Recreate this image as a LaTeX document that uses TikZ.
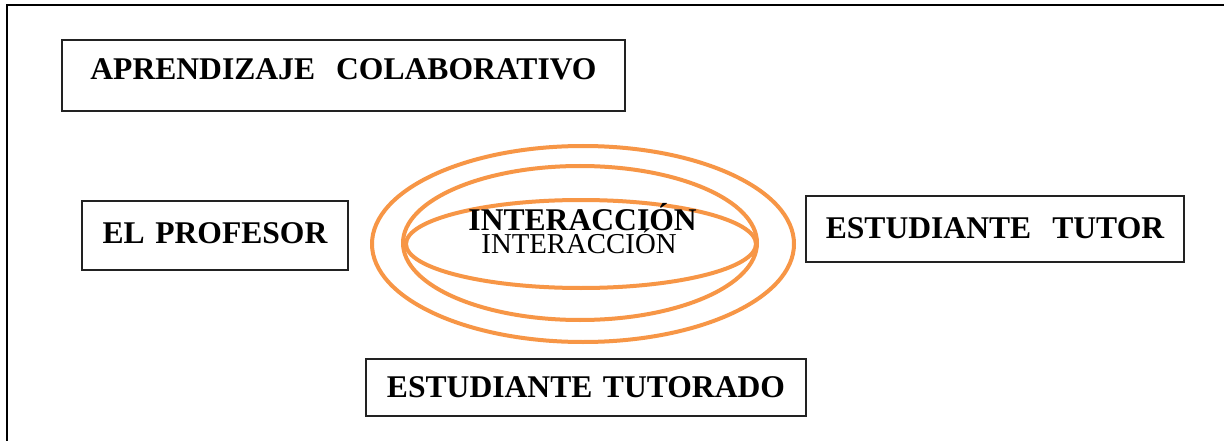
\documentclass[tikz,border=0pt]{standalone}
\usepackage{fontspec}
\setmainfont{Liberation Serif}
\definecolor{ringorange}{HTML}{F79646}
\definecolor{boxline}{HTML}{222222}
\begin{document}
\begin{tikzpicture}[x=1pt,y=-1pt,
  labelbox/.style={draw=boxline, line width=1.3pt, inner sep=0pt, anchor=base, align=center,
    font=\fontsize{31.6}{36}\selectfont\bfseries},
  ring/.style={draw=ringorange, line width=4pt},
  ringtext/.style={inner sep=0pt, anchor=base}
]
\useasboundingbox (0,0) rectangle (1224,441);
\fill[white] (0,0) rectangle (1224,441);
% frame (top and left edges visible)
\draw[line width=2pt, black] (7,446) -- (7,5) -- (1230,5);

% boxes
\node[labelbox, text width=563pt, text height=40pt, text depth=31pt] (apr) at (343.5,80)
  {APRENDIZAJE\ \ COLABORATIVO\hspace*{12pt}};
\node[labelbox, text width=266pt, text height=42pt, text depth=27pt] (prof) at (215,243)
  {EL PROFESOR};
\node[labelbox, text width=378pt, text height=42pt, text depth=24pt] (tutor) at (995,238)
  {ESTUDIANTE\ \ TUTOR};
\node[labelbox, text width=440pt, text height=38pt, text depth=19pt] (tutorado) at (586,397)
  {ESTUDIANTE TUTORADO\hspace*{4pt}};

% rings
\draw[ring] (583,244) ellipse [x radius=211, y radius=98];
\draw[ring] (580,243) ellipse [x radius=177, y radius=77];
\draw[ring] (581,244) ellipse [x radius=175, y radius=44];

% texts
\node[ringtext, font=\fontsize{31.6}{36}\selectfont\bfseries] (int1) at (582.6,230) {INTERACCIÓN};
\node[ringtext, font=\fontsize{28.8}{34}\selectfont] (int2) at (579,253) {INTERACCIÓN};
\end{tikzpicture}
\end{document}
